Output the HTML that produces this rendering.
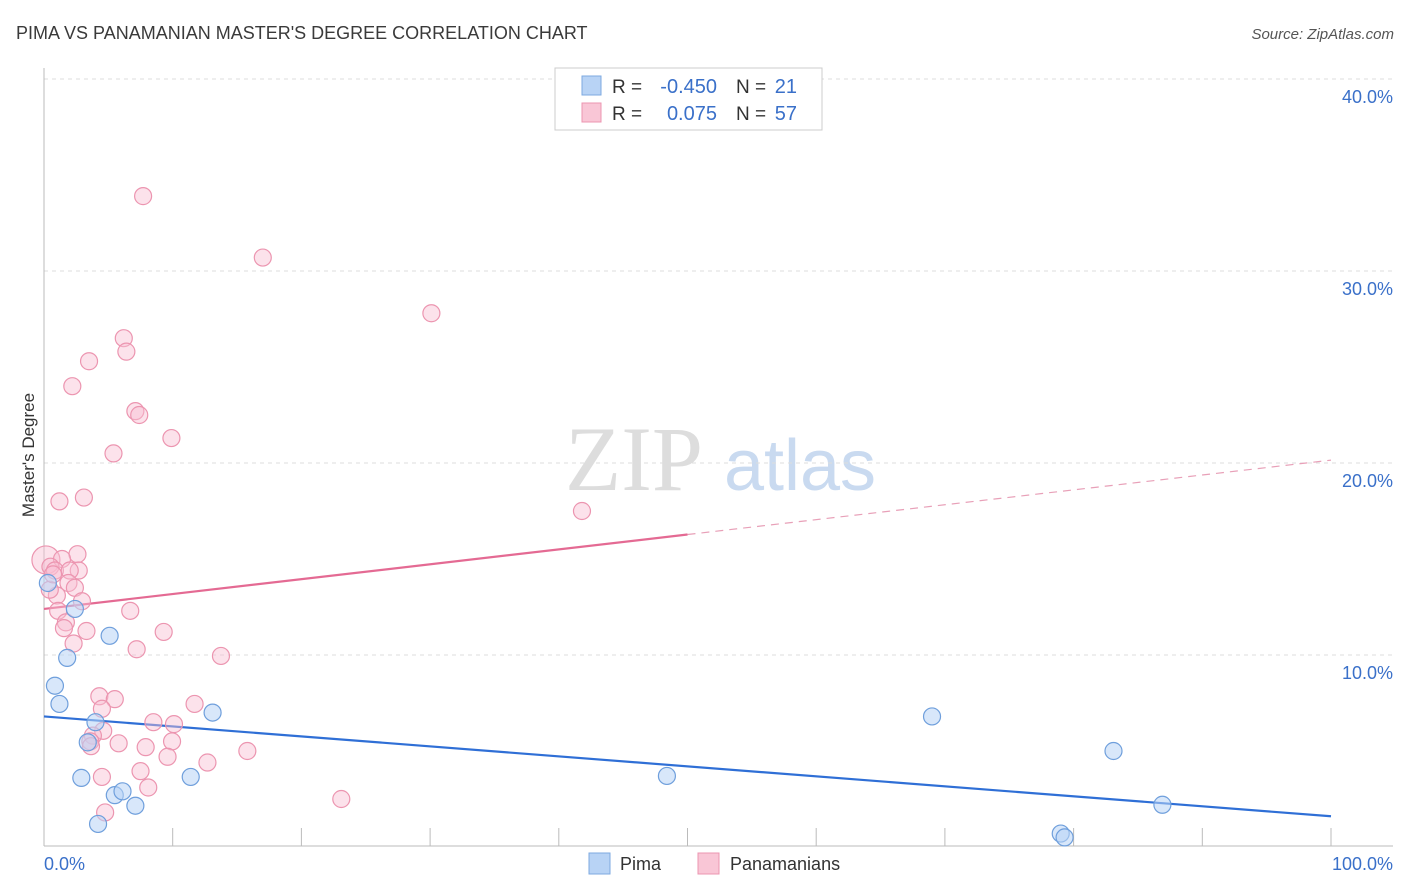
<!DOCTYPE html>
<html><head><meta charset="utf-8"><style>
body{margin:0;background:#fff;font-family:"Liberation Sans",sans-serif;}
svg{display:block}
</style></head><body>
<svg id="chart" width="1406" height="892" xmlns="http://www.w3.org/2000/svg">
<text x="16" y="39" font-size="18" fill="#3a3a3a">PIMA VS PANAMANIAN MASTER'S DEGREE CORRELATION CHART</text>
<text x="1394" y="39" font-size="15" fill="#555" text-anchor="end" font-style="italic">Source: ZipAtlas.com</text>
<g>
<text x="634" y="490" font-size="92" fill="#ddd" font-family="Liberation Serif,serif" text-anchor="middle">ZIP</text>
<text x="800" y="490" font-size="72" fill="#c9daf0" text-anchor="middle">atlas</text>
</g>
<g id="grid"></g>
<g id="axes"></g>
<g id="lines"></g>
<g id="points"></g>
<text x="34" y="455" font-size="17" fill="#333" text-anchor="middle" transform="rotate(-90 34 455)">Master's Degree</text>
<g>
<rect x="555" y="68" width="267" height="62" fill="#fff" stroke="#ccc"/>
<rect x="582" y="76" width="19" height="19" fill="#b8d3f5" stroke="#7ea9e0"/>
<rect x="582" y="103" width="19" height="19" fill="#f9c6d6" stroke="#ec95b0"/>
<text x="612" y="93" font-size="19" fill="#333">R =</text>
<text x="717" y="93" font-size="20" fill="#3a70c9" text-anchor="end">-0.450</text>
<text x="736" y="93" font-size="19" fill="#333">N =</text>
<text x="797" y="93" font-size="20" fill="#3a70c9" text-anchor="end">21</text>
<text x="612" y="120" font-size="19" fill="#333">R =</text>
<text x="717" y="120" font-size="20" fill="#3a70c9" text-anchor="end">0.075</text>
<text x="736" y="120" font-size="19" fill="#333">N =</text>
<text x="797" y="120" font-size="20" fill="#3a70c9" text-anchor="end">57</text>
</g>
<g>
<rect x="589" y="853" width="21" height="21" fill="#b8d3f5" stroke="#7ea9e0"/>
<text x="620" y="870" font-size="18" fill="#333">Pima</text>
<rect x="698" y="853" width="21" height="21" fill="#f9c6d6" stroke="#ec95b0"/>
<text x="730" y="870" font-size="18" fill="#333">Panamanians</text>
</g>
</svg>
<script>
const yTicks=[10,20,30,40];
const yTickLabels=["10.0%","20.0%","30.0%","40.0%"];
const xTickLabels=["0.0%","100.0%"];
const pimaX=[0.3,0.85,1.2,1.8,2.4,5.1,4.0,3.4,2.9,4.2,5.5,6.1,7.1,11.4,13.1,48.4,69.0,79.0,79.3,83.1,86.9];
const pimaY=[13.75,8.4,7.45,9.85,12.4,11.0,6.5,5.45,3.6,1.2,2.7,2.9,2.15,3.65,7.0,3.7,6.8,0.7,0.5,5.0,2.2];
const panX=[7.7,17.0,30.1,6.2,6.4,3.5,2.2,7.1,7.4,9.9,5.4,41.8,1.2,3.1,0.15,2.6,1.4,0.5,0.85,2.7,2.0,1.9,2.4,1.0,2.95,1.1,6.7,1.7,1.55,3.3,9.3,2.3,7.2,13.75,4.3,5.5,4.5,11.7,8.5,10.1,4.6,3.8,3.6,3.65,5.8,9.95,7.9,15.8,9.6,12.7,7.5,4.5,8.1,23.1,4.75,0.45,0.7];
const panY=[33.9,30.7,27.8,26.5,25.8,25.3,24.0,22.7,22.5,21.3,20.5,17.5,18.0,18.2,14.95,15.25,15.0,14.6,14.4,14.4,14.4,13.75,13.5,13.1,12.8,12.3,12.3,11.7,11.4,11.25,11.2,10.6,10.3,9.95,7.85,7.7,7.2,7.45,6.5,6.4,6.05,5.8,5.5,5.25,5.4,5.5,5.2,5.0,4.7,4.4,3.95,3.65,3.1,2.5,1.8,13.4,14.2];
const pimaTrend=[6.8,1.6];
const panTrend=[12.4,20.15];
const X=v=>44+v*12.87, Y=v=>847-v*19.2;
const NS="http://www.w3.org/2000/svg";
function mk(tag,parent,attrs){const e=document.createElementNS(NS,tag);for(const k in attrs)e.setAttribute(k,attrs[k]);document.getElementById(parent).appendChild(e);return e;}
yTicks.forEach((t,i)=>{
 const g=mk('line','grid',{x1:44,x2:1393,y1:Y(t),y2:Y(t),stroke:'#ddd','stroke-dasharray':'4,4'});
 
 
 const l=mk('text','axes',{x:1393,y:Y(t)+24,'font-size':18,fill:'#3a70c9','text-anchor':'end'});l.textContent=yTickLabels[i];
 
 
});
let a=mk('line','axes',{x1:44,x2:44,y1:68,y2:846,stroke:'#bbb'});


a=mk('line','axes',{x1:44,x2:1393,y1:846,y2:846,stroke:'#bbb'});


for(let i=0;i<=10;i++){const t=mk('line','axes',{x1:X(i*10),x2:X(i*10),y1:828,y2:846,stroke:'#bbb'});
 
 }
[[0,'start'],[100,'end']].forEach((p,i)=>{const t=mk('text','axes',{x:i?1393:44,y:870,'font-size':18,fill:'#3a70c9','text-anchor':p[1]});t.textContent=xTickLabels[i];
 
 });
let ln=mk('line','lines',{x1:X(0),y1:Y(pimaTrend[0]),x2:X(100),y2:Y(pimaTrend[1]),stroke:'#2f6fd6','stroke-width':2.2});


const pm=v=>panTrend[0]+(panTrend[1]-panTrend[0])*v/100;
ln=mk('line','lines',{x1:X(0),y1:Y(pm(0)),x2:X(50),y2:Y(pm(50)),stroke:'#e46a93','stroke-width':2.2});


ln=mk('line','lines',{x1:X(50),y1:Y(pm(50)),x2:X(100),y2:Y(pm(100)),stroke:'#e8a0b8','stroke-width':1.2,'stroke-dasharray':'8,6'});


panX.forEach((x,i)=>{const c=mk('circle','points',{cx:X(x),cy:Y(panY[i]),r:i==14?14:8.5,fill:'rgba(249,190,210,0.45)',stroke:'#ec95b0','stroke-width':1.2});
 
 });
pimaX.forEach((x,i)=>{const c=mk('circle','points',{cx:X(x),cy:Y(pimaY[i]),r:8.5,fill:'rgba(184,211,245,0.55)',stroke:'#6f9fdc','stroke-width':1.2});
 
 });
</script>
</body></html>
